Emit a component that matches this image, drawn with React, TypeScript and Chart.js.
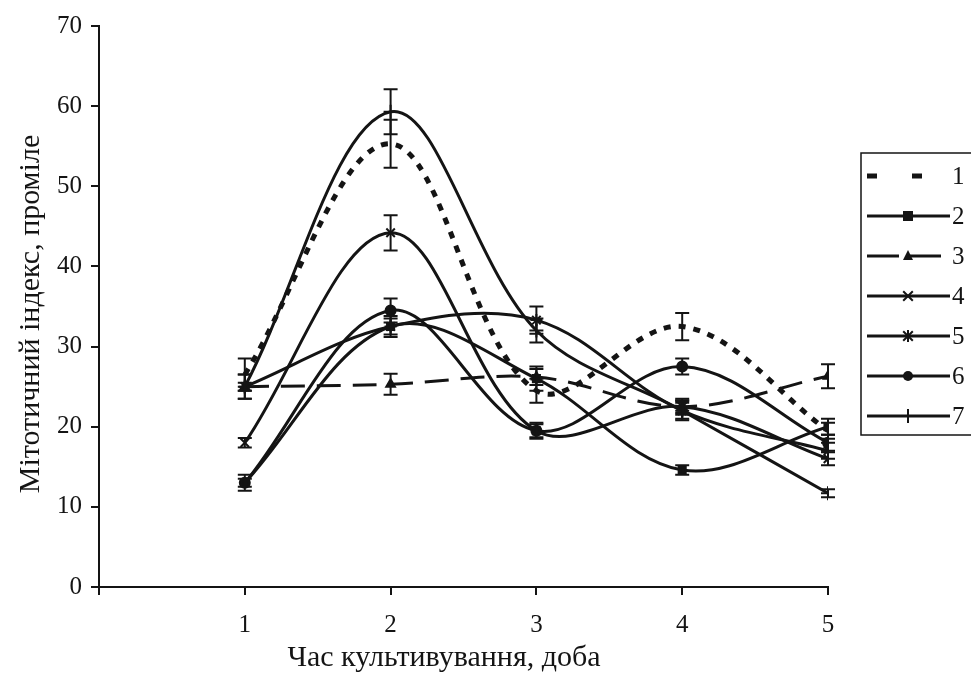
import React, { useEffect, useRef } from "react";
import { Chart, registerables } from "chart.js";

Chart.register(...registerables);

const days = [1, 2, 3, 4, 5];
const xTicks = [0, 1, 2, 3, 4, 5];
const yTicks = [0, 10, 20, 30, 40, 50, 60, 70];
const seriesLabels = ["1", "2", "3", "4", "5", "6", "7"];

const s1 = [26.5, 55.3, 24.5, 32.5, 19.5];
const s2 = [13, 32.5, 26, 14.6, 20];
const s3 = [25, 25.3, 26.2, 22.5, 26.3];
const s4 = [18, 44.2, 19.5, 22.5, 16];
const s5 = [25, 32.5, 33.3, 22, 17];
const s6 = [13, 34.5, 19.5, 27.5, 18];
const s7 = [25, 59.3, 32, 22, 11.7];

const e1 = [2, 3, 1.5, 1.7, 1];
const e2 = [1, 1.3, 1.5, 0.6, 1];
const e3 = [0.5, 1.3, 1, 0.8, 1.5];
const e4 = [0.6, 2.2, 1, 1, 0.8];
const e5 = [1.5, 1, 1.7, 1.2, 1];
const e6 = [0.5, 1.5, 0.8, 1, 1];
const e7 = [1.5, 2.8, 1.5, 1, 0.5];

const xTitle = "Час культивування, доба";
const yTitle = "Мітотичний індекс, проміле";

const INK = "#141414";
const FONT = "'Liberation Serif', 'DejaVu Serif', serif";

type Style = {
  dash: number[];
  legendDash: number[];
  width: number;
  point: string | false;
  radius: number;
};

const styles: Style[] = [
  { dash: [7, 8], legendDash: [10, 35], width: 5, point: false, radius: 0 },
  { dash: [], legendDash: [], width: 3, point: "rect", radius: 5 },
  { dash: [24, 12], legendDash: [32, 10], width: 3, point: "triangle", radius: 5 },
  { dash: [], legendDash: [], width: 3, point: "crossRot", radius: 6 },
  { dash: [], legendDash: [], width: 3, point: "star", radius: 6 },
  { dash: [], legendDash: [], width: 3, point: "circle", radius: 5 },
  { dash: [], legendDash: [], width: 3, point: "cross", radius: 7 },
];

const values = [s1, s2, s3, s4, s5, s6, s7];
const errors = [e1, e2, e3, e4, e5, e6, e7];

function drawMarker(ctx: CanvasRenderingContext2D, style: string | false, x: number, y: number, r: number) {
  if (!style) return;
  ctx.save();
  ctx.setLineDash([]);
  ctx.fillStyle = INK;
  ctx.strokeStyle = INK;
  ctx.lineWidth = 2;
  ctx.beginPath();
  if (style === "rect") {
    ctx.rect(x - r, y - r, 2 * r, 2 * r);
    ctx.fill();
  } else if (style === "triangle") {
    ctx.moveTo(x, y - r * 1.2);
    ctx.lineTo(x + r, y + r * 0.8);
    ctx.lineTo(x - r, y + r * 0.8);
    ctx.closePath();
    ctx.fill();
  } else if (style === "circle") {
    ctx.arc(x, y, r, 0, Math.PI * 2);
    ctx.fill();
  } else if (style === "crossRot" || style === "star" || style === "cross") {
    const d = r * 0.8;
    if (style !== "cross") {
      ctx.moveTo(x - d, y - d);
      ctx.lineTo(x + d, y + d);
      ctx.moveTo(x - d, y + d);
      ctx.lineTo(x + d, y - d);
    }
    if (style !== "crossRot") {
      ctx.moveTo(x, y - r);
      ctx.lineTo(x, y + r);
    }
    if (style === "cross") {
      ctx.moveTo(x - r, y);
      ctx.lineTo(x + r, y);
    }
    ctx.stroke();
  }
  ctx.restore();
}

const errorBarPlugin = {
  id: "errorBars",
  afterDatasetsDraw(chart: any) {
    const ctx: CanvasRenderingContext2D = chart.ctx;
    const yScale = chart.scales.y;
    ctx.save();
    ctx.strokeStyle = INK;
    ctx.lineWidth = 2;
    ctx.setLineDash([]);
    chart.data.datasets.forEach((ds: any, i: number) => {
      const meta = chart.getDatasetMeta(i);
      const errs = errors[i];
      meta.data.forEach((pt: any, j: number) => {
        const v = values[i][j];
        const e = errs[j];
        const x = pt.x;
        const yt = yScale.getPixelForValue(v + e);
        const yb = yScale.getPixelForValue(v - e);
        ctx.beginPath();
        ctx.moveTo(x, yt);
        ctx.lineTo(x, yb);
        ctx.moveTo(x - 7, yt);
        ctx.lineTo(x + 7, yt);
        ctx.moveTo(x - 7, yb);
        ctx.lineTo(x + 7, yb);
        ctx.stroke();
      });
    });
    ctx.restore();
  },
};

const decorPlugin = {
  id: "decor",
  afterDraw(chart: any) {
    const ctx: CanvasRenderingContext2D = chart.ctx;
    ctx.save();
    ctx.fillStyle = INK;
    ctx.font = `30px ${FONT}`;
    ctx.textAlign = "center";
    ctx.textBaseline = "middle";
    ctx.fillText(xTitle, 444, 658);
    ctx.save();
    ctx.translate(31, 314);
    ctx.rotate(-Math.PI / 2);
    ctx.fillText(yTitle, 0, 0);
    ctx.restore();

    // legend
    const boxL = 861;
    const boxT = 153;
    const boxB = 435;
    ctx.strokeStyle = INK;
    ctx.lineWidth = 1.5;
    ctx.strokeRect(boxL, boxT, 140, boxB - boxT);
    ctx.font = `25px ${FONT}`;
    ctx.textAlign = "left";
    seriesLabels.forEach((lab, i) => {
      const st = styles[i];
      const y = 176 + i * 40;
      ctx.save();
      ctx.strokeStyle = INK;
      ctx.lineWidth = st.width;
      ctx.setLineDash(st.legendDash);
      ctx.beginPath();
      ctx.moveTo(867, y);
      ctx.lineTo(950, y);
      ctx.stroke();
      ctx.restore();
      drawMarker(ctx, st.point, 908, y, st.radius);
      ctx.fillStyle = INK;
      ctx.fillText(lab, 952, y + 1);
    });
    ctx.restore();
  },
};

export default function App() {
  const ref = useRef<HTMLCanvasElement | null>(null);
  useEffect(() => {
    document.body.style.margin = "0";
    const canvas = ref.current;
    if (!canvas) return;
    const datasets = values.map((vals, i) => {
      const st = styles[i];
      return {
        label: seriesLabels[i],
        data: vals.map((v, j) => ({ x: days[j], y: v })),
        borderColor: INK,
        backgroundColor: INK,
        borderWidth: st.width,
        borderDash: st.dash,
        borderCapStyle: "butt" as const,
        tension: 0.35,
        pointStyle: st.point as any,
        pointRadius: st.radius,
        pointBorderWidth: 2,
        pointBackgroundColor: INK,
        pointBorderColor: INK,
        fill: false,
      };
    });
    const chart = new Chart(canvas, {
      type: "line",
      data: { datasets },
      plugins: [errorBarPlugin, decorPlugin],
      options: {
        animation: false,
        responsive: false,
        maintainAspectRatio: false,
        layout: { padding: { top: 26, right: 143, left: 0, bottom: 0 } },
        plugins: { legend: { display: false }, tooltip: { enabled: false } },
        scales: {
          x: {
            type: "linear",
            min: 0,
            max: 5,
            afterFit: (s: any) => {
              s.height = 98;
            },
            afterBuildTicks: (s: any) => {
              s.ticks = xTicks.map((v) => ({ value: v }));
            },
            ticks: {
              color: INK,
              font: { family: FONT, size: 25 },
              padding: 15,
              callback: (v: any) => (v === 0 ? "" : String(v)),
            },
            grid: { drawOnChartArea: false, drawTicks: true, tickLength: 8, color: INK, lineWidth: 2 },
            border: { display: true, color: INK, width: 2 },
          },
          y: {
            type: "linear",
            min: 0,
            max: 70,
            afterFit: (s: any) => {
              s.width = 99;
            },
            afterBuildTicks: (s: any) => {
              s.ticks = yTicks.map((v) => ({ value: v }));
            },
            ticks: {
              color: INK,
              font: { family: FONT, size: 25 },
              padding: 9,
            },
            grid: { drawOnChartArea: false, drawTicks: true, tickLength: 8, color: INK, lineWidth: 2 },
            border: { display: true, color: INK, width: 2 },
          },
        },
      },
    });
    return () => chart.destroy();
  }, []);
  return <canvas ref={ref} width={971} height={685} style={{ display: "block" }} />;
}
